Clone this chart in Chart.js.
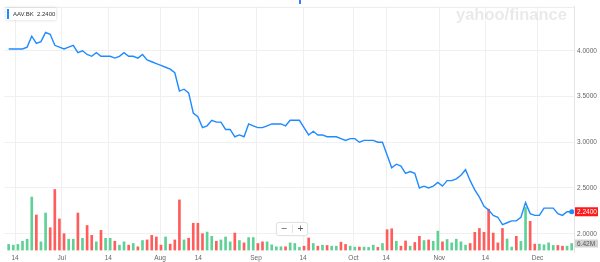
<!DOCTYPE html>
<html>
<head>
<meta charset="utf-8">
<script src="https://cdn.jsdelivr.net/npm/chart.js@4.4.1/dist/chart.umd.min.js"></script>
<style>
  html, body { margin: 0; padding: 0; background: #fff; }
</style>
</head>
<body>
<canvas id="chart" width="600" height="262"></canvas>
<script>
// AAV.BK daily closes and volumes (one entry per trading day)
const ticker = 'AAV.BK';
const closes = [
  4.02, 4.02, 4.02, 4.02, 4.04, 4.16, 4.08, 4.10, 4.20, 4.18,
  4.06, 4.04, 4.02, 4.04, 4.06, 3.98, 4.00, 3.96, 3.94, 3.98,
  3.94, 3.94, 3.94, 3.92, 3.94, 3.98, 3.94, 3.94, 3.92, 3.96,
  3.90, 3.88, 3.86, 3.84, 3.82, 3.80, 3.76, 3.56, 3.58, 3.54,
  3.32, 3.28, 3.16, 3.18, 3.24, 3.22, 3.22, 3.14, 3.14, 3.06,
  3.08, 3.06, 3.20, 3.18, 3.16, 3.16, 3.18, 3.20, 3.20, 3.20,
  3.18, 3.24, 3.24, 3.24, 3.16, 3.08, 3.12, 3.08, 3.08, 3.06,
  3.06, 3.06, 3.04, 3.02, 3.04, 3.04, 3.00, 3.02, 3.02, 3.02,
  3.00, 3.00, 2.86, 2.72, 2.76, 2.74, 2.66, 2.68, 2.66, 2.50,
  2.52, 2.50, 2.52, 2.56, 2.52, 2.58, 2.58, 2.60, 2.64, 2.70,
  2.58, 2.48, 2.40, 2.30, 2.26, 2.20, 2.18, 2.10, 2.12, 2.14,
  2.14, 2.18, 2.34, 2.22, 2.20, 2.20, 2.28, 2.28, 2.28, 2.22,
  2.20, 2.24, 2.24
];
// volume in millions of shares
const volumes = [
  5.5, 4.8, 5.5, 8.6, 10.6, 51.8, 34.3, 8.0, 36.2, 21.8,
  59.2, 30.4, 16.0, 10.6, 10.6, 36.2, 11.5, 24.0, 14.4, 8.0,
  19.2, 11.5, 11.5, 8.6, 4.8, 8.0, 4.8, 6.4, 3.2, 9.3,
  9.9, 14.4, 12.8, 4.8, 12.8, 5.8, 9.9, 49.0, 9.9, 11.5,
  26.2, 26.2, 16.0, 17.6, 13.4, 8.6, 9.9, 12.8, 8.0, 16.6,
  9.3, 7.0, 12.2, 12.2, 6.4, 8.0, 8.0, 5.1, 3.2, 3.2,
  3.2, 7.0, 6.4, 2.6, 3.8, 11.8, 6.4, 3.8, 4.8, 4.5,
  3.8, 3.8, 7.7, 5.5, 3.8, 2.9, 2.9, 2.9, 2.6, 4.8,
  2.6, 6.4, 19.9, 20.8, 8.6, 3.8, 8.9, 3.8, 7.4, 13.4,
  9.3, 9.9, 8.6, 18.5, 8.0, 10.3, 7.0, 10.6, 8.0, 4.8,
  6.4, 17.3, 21.1, 17.3, 40.0, 16.6, 7.0, 21.1, 10.8, 2.9,
  13.4, 8.4, 41.6, 28.1, 5.8, 5.8, 5.1, 7.0, 4.5, 4.5,
  3.8, 3.8, 6.42
];
// 1 = up day (green), 0 = down day (red)
const upDay = [
  1, 1, 1, 1, 1, 1, 0, 1, 1, 0,
  0, 0, 0, 1, 1, 0, 1, 0, 0, 1,
  0, 1, 1, 0, 1, 1, 0, 1, 0, 1,
  0, 0, 0, 0, 1, 0, 0, 0, 1, 0,
  0, 0, 0, 1, 1, 0, 1, 1, 1, 0,
  1, 0, 1, 1, 0, 0, 1, 1, 1, 1,
  0, 1, 1, 1, 0, 0, 1, 0, 1, 0,
  1, 1, 0, 0, 1, 1, 0, 1, 1, 1,
  0, 1, 0, 0, 1, 0, 0, 1, 0, 0,
  1, 0, 1, 1, 0, 1, 1, 1, 1, 1,
  0, 0, 0, 0, 0, 0, 0, 0, 1, 1,
  0, 1, 1, 0, 0, 1, 1, 1, 1, 0,
  0, 1, 1
];
// date gridlines, in trading-day index units
const tickPos = [1.4, 11.5, 21.6, 32.8, 41.1, 53.6, 63.8, 74.7, 81.8, 93.3, 103.3, 114.6];
const tickLabels = ['14', 'Jul', '14', 'Aug', '14', 'Sep', '14', 'Oct', '14', 'Nov', '14', 'Dec'];
const priceTicks = [2.0, 2.5, 3.0, 3.5, 4.0];

const FONT = '"Liberation Sans", Arial, sans-serif';
const LINE_COLOR = '#1f8bff';
const UP_COLOR = '#5fd196';
const DOWN_COLOR = '#ff5c5c';
const GRID = '#f0f0f0';

const last = closes.length - 1;

// watermark, legend box, price / volume flags and zoom buttons
const decor = {
  id: 'decor',
  beforeDatasetsDraw(chart) {
    const { ctx, chartArea: a } = chart;
    ctx.save();
    ctx.strokeStyle = '#ececec';
    ctx.lineWidth = 1;
    ctx.beginPath();
    ctx.moveTo(a.left, a.top + 0.5);
    ctx.lineTo(a.right, a.top + 0.5);
    ctx.stroke();
    ctx.font = 'bold 16.5px ' + FONT;
    ctx.fillStyle = 'rgba(0,0,0,0.085)';
    ctx.textBaseline = 'alphabetic';
    ctx.fillText('yahoo/finance', 456, 19.5);
    ctx.restore();
  },
  afterDraw(chart) {
    const { ctx, scales } = chart;
    ctx.save();

    // blue marker at top centre
    ctx.fillStyle = '#3d7bf7';
    ctx.fillRect(299, 0, 2, 4);

    // legend box
    ctx.shadowColor = 'rgba(0,0,0,0.18)';
    ctx.shadowBlur = 3;
    ctx.fillStyle = '#fff';
    ctx.fillRect(6, 8, 50, 12);
    ctx.shadowBlur = 0;
    ctx.fillStyle = LINE_COLOR;
    ctx.fillRect(7, 9, 2, 10);
    ctx.font = '6px ' + FONT;
    ctx.fillStyle = '#333';
    ctx.textBaseline = 'middle';
    ctx.fillText(ticker + '  ' + closes[last].toFixed(4), 13, 14.5);

    // zoom buttons
    ctx.shadowColor = 'rgba(0,0,0,0.12)';
    ctx.shadowBlur = 2;
    ctx.fillStyle = '#fff';
    ctx.beginPath();
    ctx.roundRect(276.5, 222.5, 31, 13, 2);
    ctx.fill();
    ctx.shadowBlur = 0;
    ctx.strokeStyle = '#e2e2e2';
    ctx.stroke();
    ctx.beginPath();
    ctx.moveTo(292.5, 225);
    ctx.lineTo(292.5, 233);
    ctx.stroke();
    ctx.fillStyle = '#555';
    ctx.font = '10px ' + FONT;
    ctx.textAlign = 'center';
    ctx.fillText('\u2212', 284.5, 229);
    ctx.fillText('+', 300.5, 229);

    // last price flag
    const py = scales.price.getPixelForValue(closes[last]);
    ctx.fillStyle = '#ff1a1a';
    ctx.fillRect(575, py - 4.5, 23, 9);
    ctx.fillStyle = '#fff';
    ctx.font = '6.5px ' + FONT;
    ctx.textAlign = 'left';
    ctx.fillText(closes[last].toFixed(4), 577, py + 0.5);

    // last volume flag
    const vy = scales.vol.getPixelForValue(volumes[last]);
    ctx.fillStyle = '#d2d2d2';
    ctx.fillRect(575, vy - 4, 23, 8);
    ctx.fillStyle = '#555';
    ctx.fillText(volumes[last].toFixed(2) + 'M', 577, vy + 0.5);

    ctx.restore();
  }
};

const ctx = document.getElementById('chart').getContext('2d');
new Chart(ctx, {
  type: 'bar',
  data: {
    datasets: [
      {
        type: 'line',
        label: ticker,
        data: closes.map((v, i) => ({ x: i, y: v })),
        yAxisID: 'price',
        borderColor: LINE_COLOR,
        borderWidth: 1.4,
        tension: 0,
        pointRadius: c => (c.dataIndex === last ? 2.5 : 0),
        pointBackgroundColor: LINE_COLOR,
        pointBorderWidth: 0,
        order: 0
      },
      {
        type: 'bar',
        label: 'Volume',
        data: volumes.map((v, i) => ({ x: i, y: v })),
        yAxisID: 'vol',
        backgroundColor: upDay.map(u => (u ? UP_COLOR : DOWN_COLOR)),
        barThickness: 2,
        order: 1
      }
    ]
  },
  options: {
    responsive: false,
    animation: false,
    devicePixelRatio: 1,
    layout: { padding: { top: 2 } },
    plugins: { legend: { display: false }, tooltip: { enabled: false } },
    scales: {
      x: {
        type: 'linear',
        offset: false,
        min: -1.01,
        max: 122.5,
        afterBuildTicks: s => { s.ticks = tickPos.map(v => ({ value: v })); },
        afterFit: s => { s.height = 10; },
        grid: { color: GRID, drawTicks: false, offset: false },
        border: { display: false },
        ticks: {
          autoSkip: false,
          maxRotation: 0,
          padding: 2,
          color: '#666',
          font: { size: 6.5, family: FONT },
          callback: (v, i) => tickLabels[i]
        }
      },
      price: {
        position: 'right',
        min: 1.8,
        max: 4.48,
        afterBuildTicks: s => { s.ticks = priceTicks.map(v => ({ value: v })); },
        afterFit: s => { s.width = 26; },
        grid: { color: GRID, drawTicks: false },
        border: { display: true, color: '#e4e4e4' },
        ticks: {
          padding: 3,
          color: '#666',
          font: { size: 6.5, family: FONT },
          callback: v => Number(v).toFixed(4)
        }
      },
      vol: {
        display: false,
        min: -1.9,
        max: 237.6
      }
    }
  },
  plugins: [decor]
});
</script>
</body>
</html>
